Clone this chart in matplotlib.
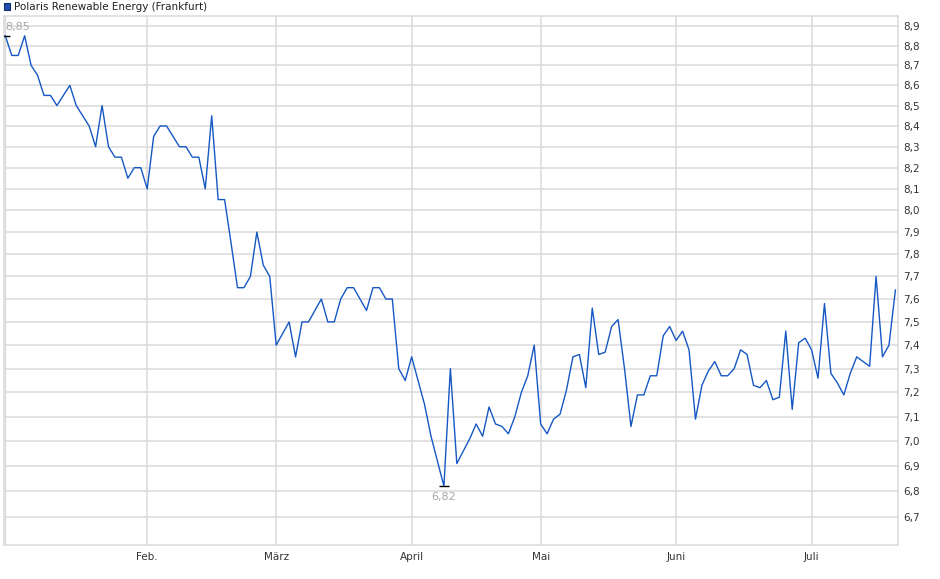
import matplotlib

matplotlib.use("Agg")
import matplotlib.pyplot as plt
from matplotlib.patches import Rectangle
from matplotlib.ticker import NullLocator
import numpy as np

TITLE = "Polaris Renewable Energy (Frankfurt)"

# daily closing prices (EUR), one value per trading day
prices = [
    8.85, 8.75, 8.75, 8.85, 8.70, 8.65, 8.55, 8.55, 8.50, 8.55,
    8.60, 8.50, 8.45, 8.40, 8.30, 8.50, 8.30, 8.25, 8.25, 8.15,
    8.20, 8.20, 8.10, 8.35, 8.40, 8.40, 8.35, 8.30, 8.30, 8.25,
    8.25, 8.10, 8.45, 8.05, 8.05, 7.85, 7.65, 7.65, 7.70, 7.90,
    7.75, 7.70, 7.40, 7.45, 7.50, 7.35, 7.50, 7.50, 7.55, 7.60,
    7.50, 7.50, 7.60, 7.65, 7.65, 7.60, 7.55, 7.65, 7.65, 7.60,
    7.60, 7.30, 7.25, 7.35, 7.25, 7.15, 7.02, 6.92, 6.82, 7.30,
    6.91, 6.96, 7.01, 7.07, 7.02, 7.14, 7.07, 7.06, 7.03, 7.10,
    7.20, 7.27, 7.40, 7.07, 7.03, 7.09, 7.11, 7.21, 7.35, 7.36,
    7.22, 7.56, 7.36, 7.37, 7.48, 7.51, 7.30, 7.06, 7.19, 7.19,
    7.27, 7.27, 7.44, 7.48, 7.42, 7.46, 7.38, 7.09, 7.23, 7.29,
    7.33, 7.27, 7.27, 7.30, 7.38, 7.36, 7.23, 7.22, 7.25, 7.17,
    7.18, 7.46, 7.13, 7.41, 7.43, 7.38, 7.26, 7.58, 7.28, 7.24,
    7.19, 7.28, 7.35, 7.33, 7.31, 7.70, 7.35, 7.40, 7.64,
]

# first trading day of each month (position in the price list)
month_idx = [22, 42, 63, 83, 104, 125]
month_labels = ["Feb.", "März", "April", "Mai", "Juni", "Juli"]

y_ticks = [6.7, 6.8, 6.9, 7.0, 7.1, 7.2, 7.3, 7.4, 7.5, 7.6, 7.7, 7.8,
           7.9, 8.0, 8.1, 8.2, 8.3, 8.4, 8.5, 8.6, 8.7, 8.8, 8.9]

LINE = "#1558c4"
GRID = "#dadada"
TEXT = "#333333"


def fmt(value):
    return f"{value:.2f}".replace(".", ",")


def main():
    x = np.arange(len(prices))
    y = np.array(prices)

    fig = plt.figure(figsize=(9.4, 5.79), dpi=100)
    ax = fig.add_axes([3.5 / 940, 34 / 579, 894.5 / 940, 529 / 579])

    ax.plot(x, y, color=LINE, linewidth=1.0, zorder=3)

    ax.set_yscale("log")
    ax.set_ylim(6.592, 8.952)
    ax.set_xlim(-0.28, 138.4)
    ax.set_yticks(y_ticks)
    ax.set_yticklabels([f"{t:.1f}".replace(".", ",") for t in y_ticks])
    ax.yaxis.set_minor_locator(NullLocator())
    ax.yaxis.tick_right()
    ax.set_xticks(month_idx)
    ax.set_xticklabels(month_labels)
    ax.tick_params(axis="both", length=0, labelsize=7.5, labelcolor=TEXT)
    ax.tick_params(axis="y", pad=4)
    ax.tick_params(axis="x", pad=5)

    ax.grid(True, color=GRID, linewidth=1.1, zorder=0)
    ax.set_axisbelow(True)
    for spine in ax.spines.values():
        spine.set_color(GRID)
        spine.set_linewidth(1.1)
    # second faint line just inside the left border
    ax.axvline(-0.0, color=GRID, linewidth=1.0, zorder=0)

    # high / low markers
    hi = int(np.argmax(y))
    lo = int(np.argmin(y))
    ax.plot([hi, lo], [y[hi], y[lo]], linestyle="none", marker="_",
            markersize=7, markeredgewidth=1.0, color="black", zorder=4)
    ax.annotate(fmt(y[hi]), (hi, y[hi]), xytext=(9, 6.5), textcoords="offset points",
                ha="center", va="center", fontsize=8, color="#a8a8a8")
    ax.annotate(fmt(y[lo]), (lo, y[lo]), xytext=(0, -7.5), textcoords="offset points",
                ha="center", va="center", fontsize=8, color="#a8a8a8")

    # legend entry at top-left
    fig.add_artist(Rectangle((4 / 940, 1 - 10 / 579), 6 / 940, 7 / 579,
                             transform=fig.transFigure, facecolor="#1f4fae",
                             edgecolor="#10306a", linewidth=0.8))
    fig.text(14 / 940, 1 - 6.5 / 579, TITLE, ha="left", va="center",
             fontsize=7.5, color="#222222")

    fig.savefig("out.png", dpi=100)


if __name__ == "__main__":
    main()
